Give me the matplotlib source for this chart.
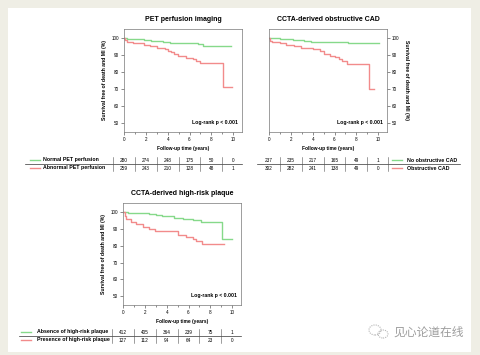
import matplotlib
matplotlib.use('Agg')
import matplotlib.pyplot as plt
from matplotlib.patches import Rectangle, Ellipse

plt.rcParams['font.family'] = ['Liberation Sans', 'Noto Sans CJK SC', 'DejaVu Sans']

W, H = 480, 355
GREEN = '#86d98a'
RED = '#f28b8b'

years = [0, 2, 4, 6, 8, 10]

# PET perfusion imaging
pet_norm_t = [0, 0.3, 1.8, 2.5, 3.6, 4.2, 6.2, 6.8, 7.2, 9.8]
pet_norm_s = [100, 99.6, 99.1, 98.6, 97.8, 97.5, 97.2, 96.6, 95.3, 95.3]
pet_abn_t = [0, 0.1, 0.3, 0.85, 1.8, 2.4, 3.0, 3.75, 4.05, 4.3, 4.6, 4.9, 5.7, 6.3, 6.6, 7.0, 9.1, 9.9]
pet_abn_s = [100, 98.8, 98, 97, 96, 95.5, 94.5, 93.6, 92.6, 91.8, 91, 89.3, 88.3, 87.5, 86.8, 85.5, 71, 71]
pet_labels = ['Normal PET perfusion', 'Abnormal PET perfusion']
pet_counts = [[280, 274, 248, 175, 50, 0], [259, 243, 210, 128, 48, 1]]

# CCTA-derived obstructive CAD
cad_no_t = [0, 1.0, 2.2, 3.2, 3.8, 7.2, 10.1]
cad_no_s = [100, 99.6, 99.3, 98.6, 98, 97.2, 97.2]
cad_yes_t = [0, 0.1, 0.3, 1.0, 1.6, 2.3, 2.9, 4.0, 4.7, 5.0, 5.6, 6.0, 6.4, 6.7, 7.1, 9.15, 9.6]
cad_yes_s = [100, 98.5, 98, 97, 96.2, 95.5, 94.2, 93.4, 92.4, 91, 89.6, 88.8, 88, 86.8, 84.8, 70.3, 70.3]
cad_labels = ['No obstructive CAD', 'Obstructive CAD']
cad_counts = [[237, 235, 217, 165, 49, 1], [302, 282, 241, 138, 49, 0]]

# CCTA-derived high-risk plaque
hrp_no_t = [0, 0.5, 2.4, 3.0, 3.6, 4.3, 4.7, 5.5, 6.4, 7.1, 9.1, 10.0]
hrp_no_s = [100, 99.6, 99, 98.5, 98, 97.5, 96.3, 96, 95.2, 94, 84.3, 84.3]
hrp_yes_t = [0, 0.15, 0.3, 0.75, 1.2, 1.8, 2.4, 2.9, 5.0, 5.8, 6.4, 6.7, 7.2, 9.2]
hrp_yes_s = [100, 97.5, 95.7, 94.2, 93.2, 91.3, 90.2, 89, 86.6, 85.2, 83.8, 82.6, 80.8, 80.8]
hrp_labels = ['Absence of high-risk plaque', 'Presence of high-risk plaque']
hrp_counts = [[412, 405, 364, 239, 75, 1], [127, 112, 94, 64, 23, 0]]

fig = plt.figure(figsize=(W / 100, H / 100), dpi=100, facecolor='#efeee5')
fig.patches.append(Rectangle((8 / W, 1 - 352 / H), 463 / W, 344 / H,
                             transform=fig.transFigure, facecolor='white',
                             edgecolor='none', zorder=-5))


def px_axes(x0, y0, x1, y1):
    return fig.add_axes([x0 / W, 1 - y1 / H, (x1 - x0) / W, (y1 - y0) / H])


def km_plot(box, title, tg, sg, tr, sr, right=False):
    ax = px_axes(*box)
    ax.set_facecolor('none')
    ax.step(tg, sg, where='post', color=GREEN, lw=1.0)
    ax.step(tr, sr, where='post', color=RED, lw=1.0)
    ax.set_xlim(0, 10.8)
    ax.set_ylim(44.7, 105.5)
    ax.set_xticks(years)
    ax.set_xticks(range(1, 11, 2), minor=True)
    ax.set_yticks([50, 60, 70, 80, 90, 100])
    ax.tick_params(labelsize=3.3, length=2, width=0.4, pad=1.5, color='#333333')
    ax.tick_params(which='minor', length=1.2, width=0.4, color='#333333')
    for s in ax.spines.values():
        s.set_color('#777777')
        s.set_linewidth(0.5)
    ax.set_title(title, fontsize=5, fontweight='bold', pad=6)
    ax.set_xlabel('Follow-up time (years)', fontsize=3.5, fontweight='bold', labelpad=3)
    if right:
        ax.yaxis.tick_right()
        ax.yaxis.set_label_position('right')
        ax.set_ylabel('Survival free of death and MI (%)', fontsize=3.7,
                      fontweight='bold', rotation=-90, labelpad=7)
    else:
        ax.set_ylabel('Survival free of death and MI (%)', fontsize=3.7,
                      fontweight='bold', labelpad=3)
    ax.text(0.97, 0.09, 'Log-rank p < 0.001', transform=ax.transAxes,
            ha='right', va='center', fontsize=3.7, fontweight='bold')
    return ax


def risk_table(box, labels, counts, line_from, line_to, handle_x, text_x, seps, ha='left'):
    tb = px_axes(*box)
    tb.set_xlim(0, 10.8)
    tb.set_ylim(2, 0)
    tb.axis('off')
    tb.plot([line_from, line_to], [1, 1], color='#333333', lw=0.5, clip_on=False)
    for sx in seps:
        tb.plot([sx, sx], [0.1, 1.9], color='#555555', lw=0.4, clip_on=False)
    for r, (lab, row, col) in enumerate(zip(labels, counts, [GREEN, RED])):
        y = r + 0.5
        tb.plot(handle_x, [y, y], color=col, lw=1.0, clip_on=False)
        tb.text(text_x, y, lab, ha=ha, va='center', fontsize=3.8, fontweight='bold')
        for x, n in zip(years, row):
            tb.text(x, y, str(n), ha='center', va='center', fontsize=3.4)


km_plot((124, 29, 242, 132), 'PET perfusion imaging',
        pet_norm_t, pet_norm_s, pet_abn_t, pet_abn_s)
risk_table((124, 156, 242, 172), pet_labels, pet_counts, -9.1, 10.8,
           [-8.6, -7.7], -7.4, [-1, 1, 3, 5, 7, 9])

km_plot((269, 29, 387, 132), 'CCTA-derived obstructive CAD',
        cad_no_t, cad_no_s, cad_yes_t, cad_yes_s, right=True)
risk_table((269, 156, 387, 172), cad_labels, cad_counts, -1.1, 17.5,
           [11.3, 12.2], 12.6, [1, 3, 5, 7, 9, 10.85])

km_plot((123, 203, 241, 305), 'CCTA-derived high-risk plaque',
        hrp_no_t, hrp_no_s, hrp_yes_t, hrp_yes_s)
risk_table((123, 328, 241, 344), hrp_labels, hrp_counts, -9.5, 10.8,
           [-9.3, -8.4], -7.9, [-1, 1, 3, 5, 7, 9])

# watermark
for cx, cy, w, h in [(375, 330, 12, 10), (383, 334, 10, 8)]:
    fig.patches.append(Ellipse((cx / W, 1 - cy / H), w / W, h / H,
                               transform=fig.transFigure, fill=False,
                               edgecolor='#b5b5b5', lw=0.8, ls=(0, (1, 1))))
fig.text(393 / W, 1 - 332 / H, '见心论道在线', fontsize=8.5, color='#9d9d9d',
         ha='left', va='center', family=['Noto Sans CJK SC', 'DejaVu Sans'])

fig.savefig('out.png', dpi=100, facecolor=fig.get_facecolor())
